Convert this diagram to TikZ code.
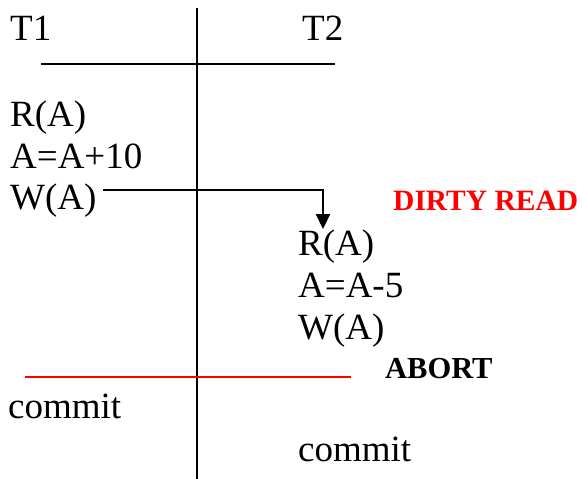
\documentclass[tikz,border=0pt]{standalone}
\usepackage{fontspec}
\setmainfont{Liberation Serif}
\usetikzlibrary{arrows.meta,calc}
\begin{document}
\begin{tikzpicture}[x=1pt,y=-1pt,
  op/.style={anchor=base west,inner sep=0pt,font=\fontsize{37}{42}\selectfont},
  note/.style={anchor=base west,inner sep=0pt,font=\fontsize{29.5}{34}\selectfont\bfseries},
  rule/.style={line width=2.3pt},
  flow/.style={line width=2.3pt,-{Triangle[length=15pt,width=14pt]}}]
\useasboundingbox (0,0) rectangle (582,479);
% column headers
\node[op] (t1) at (10,40) {T1};
\node[op] (t2) at (302,40) {T2};
% timeline axes
\coordinate (vtop) at (197,8);
\coordinate (vbot) at (197,479);
\draw[rule] (vtop) -- (vbot);
\coordinate (hl) at (41,64);
\coordinate (hr) at (335,64);
\draw[rule] (hl) -- (hr);
% T1 operations
\node[op] (r1) at (10,126) {R(A)};
\node[op] (u1) at (10,168) {A=A+10};
\node[op] (w1) at (10,209) {W(A)};
% T2 operations
\node[op] (r2) at (298,255) {R(A)};
\node[op] (u2) at (298,297) {A=A-5};
\node[op] (w2) at (298,339) {W(A)};
% dirty read arrow from W(A) of T1 down onto R(A) of T2
\coordinate (ws) at ($(w1.base east)+(6,-19)$);
\coordinate (turn) at (323,190);
\coordinate (tip) at (323,229);
\draw[flow] (ws) -- (turn) -- (tip);
\node[note,text=red] (dirty) at (393,210) {DIRTY READ};
% abort line
\coordinate (al) at (25,377);
\coordinate (ar) at (351,377);
\draw[rule,red] (al) -- (ar);
\node[note,font=\fontsize{30.5}{34}\selectfont\bfseries] (abort) at (385,378) {ABORT};
% commits
\node[op] (c1) at (8,418) {commit};
\node[op] (c2) at (298,461) {commit};
\end{tikzpicture}
\end{document}
